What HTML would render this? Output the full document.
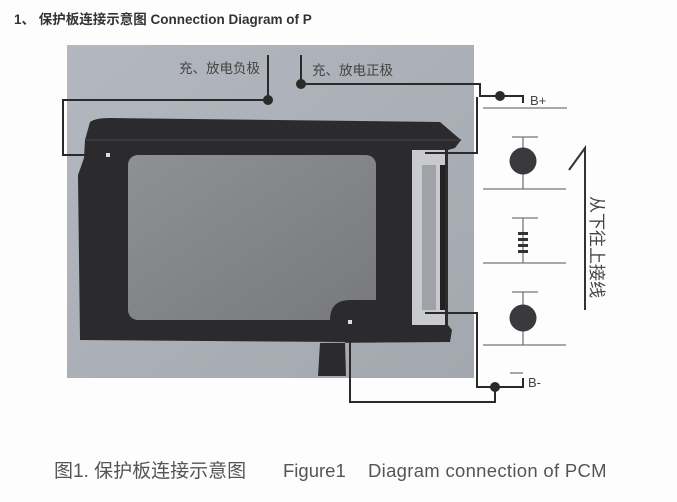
<!DOCTYPE html>
<html><head><meta charset="utf-8"><style>
html,body{margin:0;padding:0;background:#fff;}
svg{display:block;}
text{font-family:"Liberation Sans","Noto Sans CJK SC",sans-serif;}
</style></head><body>
<svg width="677" height="502" viewBox="0 0 677 502" xmlns="http://www.w3.org/2000/svg">
<rect width="677" height="502" fill="#fdfdfd"/>
<text x="14" y="24" font-size="13.5" font-weight="bold" fill="#333">1、 保护板连接示意图 <tspan>Connection Diagram of P</tspan></text>
<defs><linearGradient id="bg" x1="0" y1="0" x2="1" y2="1"><stop offset="0" stop-color="#b3b7bf"/><stop offset="1" stop-color="#a3a7ae"/></linearGradient>
<linearGradient id="pl" x1="0" y1="0" x2="1" y2="1"><stop offset="0" stop-color="#8e9094"/><stop offset="1" stop-color="#77797d"/></linearGradient></defs>
<rect x="67" y="45" width="407" height="333" fill="url(#bg)"/>
<path d="M90 122 Q95 118 110 118 L440 122 L461 140 L455 148 L448 150 L448 325 L452 330 L450 342 L320 343 L318 376 L346 376 L345 342 L80 340 L78 175 L84 158 L85 140 Z" fill="#2b2b2d"/>
<path d="M85 140 L461 140" stroke="#3a3a3c" stroke-width="2"/>
<rect x="128" y="155" width="248" height="165" rx="10" fill="url(#pl)"/>
<path d="M330 320 Q330 300 350 300 L376 300 L376 320 Z" fill="#2b2b2d"/>
<rect x="412" y="150" width="33" height="175" fill="#c8cacd"/>
<rect x="422" y="165" width="14" height="145" fill="#9fa2a6"/>
<rect x="440" y="165" width="5" height="145" fill="#222"/>
<g fill="none" stroke="#2a2a2a" stroke-width="2">
<path d="M268 55 V100 H63 V155 H108"/>
<path d="M301 55 V84 H480 V96 H500"/>
<path d="M500 96 H523 V103"/>
<path d="M425 153 H477 V97"/>
<path d="M425 313 H477 V387 H495"/>
<path d="M350 322 V402 H495 V387 H523 V378"/>
</g>
<g fill="#2a2a2a">
<circle cx="268" cy="100" r="5"/><circle cx="301" cy="84" r="5"/>
<circle cx="500" cy="96" r="5"/><circle cx="495" cy="387" r="5"/>
</g>
<g fill="#ddd"><rect x="106" y="153" width="4" height="4"/><rect x="348" y="320" width="4" height="4"/></g>
<text x="179" y="73" font-size="13.5" fill="#444">充、放电负极</text>
<text x="312" y="75" font-size="13.5" fill="#444">充、放电正极</text>
<g stroke="#777" stroke-width="1.3" fill="none">
<path d="M483 108 H567"/><path d="M483 189 H566"/><path d="M483 263 H566"/><path d="M483 345 H566"/>
<path d="M512 137 H538 M523 137 V189"/>
<path d="M512 218 H538 M523 218 V263"/>
<path d="M512 292 H538 M523 292 V345"/>
<path d="M510 373 H523"/>
</g>
<circle cx="523" cy="161" r="13.5" fill="#3a3a3e"/>
<circle cx="523" cy="318" r="13.5" fill="#3a3a3e"/>
<g fill="#333"><rect x="518" y="232" width="10" height="3"/><rect x="518" y="238" width="10" height="3"/><rect x="518" y="244" width="10" height="3"/><rect x="518" y="250" width="10" height="3"/></g>
<text x="530" y="105" font-size="13" fill="#444">B+</text>
<text x="528" y="387" font-size="13" fill="#444">B-</text>
<path d="M569 170 L585 148 V310" stroke="#333" stroke-width="2" fill="none"/>
<text transform="translate(591,196) rotate(90)" font-size="17" fill="#444" font-family="Noto Serif CJK SC, serif">从下往上接线</text>
<text x="54" y="477" font-size="18.5" fill="#555"><tspan font-size="19">图1. 保护板连接示意图</tspan><tspan x="283">Figure1</tspan><tspan x="368" letter-spacing="0.3">Diagram connection of PCM</tspan></text>
</svg>
</body></html>
